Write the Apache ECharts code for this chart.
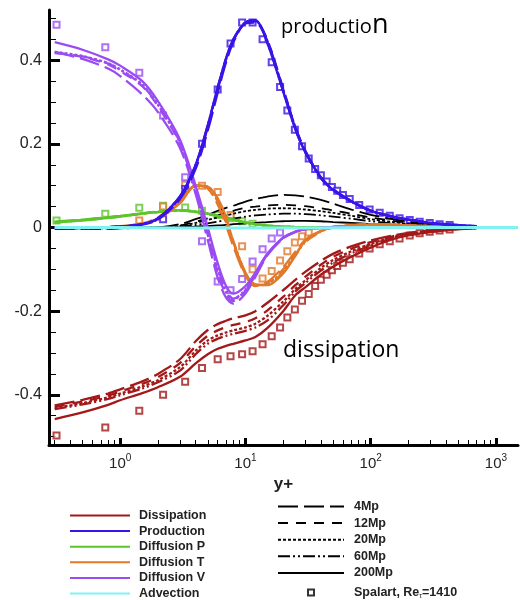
<!DOCTYPE html>
<html>
<head>
<meta charset="UTF-8">
<title>TKE budget</title>
<script src="https://cdn.jsdelivr.net/npm/echarts@6/dist/echarts.min.js"></script>
<style>html,body{margin:0;padding:0;background:#fff}</style>
</head>
<body>
<div id="main" style="width:520px;height:600px"></div>
<script>
// y+ grid of the simulation curves
var yPlus = [0.3,0.5,0.8,1,1.5,2,3,4,5,6,7,8,10,12,15,20,25,30,40,50,70,100,150,200,300,500,700];

var diss4   = [-0.425,-0.412,-0.397,-0.387,-0.368,-0.350,-0.315,-0.272,-0.245,-0.231,-0.223,-0.217,-0.210,-0.200,-0.180,-0.150,-0.125,-0.106,-0.080,-0.063,-0.045,-0.031,-0.019,-0.013,-0.007,-0.003,-0.001];
var diss12  = [-0.428,-0.416,-0.402,-0.392,-0.374,-0.358,-0.324,-0.284,-0.259,-0.246,-0.238,-0.233,-0.226,-0.217,-0.198,-0.166,-0.138,-0.118,-0.089,-0.070,-0.051,-0.035,-0.021,-0.015,-0.008,-0.003,-0.001];
var diss20  = [-0.432,-0.420,-0.406,-0.397,-0.380,-0.365,-0.334,-0.295,-0.270,-0.258,-0.251,-0.246,-0.239,-0.230,-0.211,-0.177,-0.147,-0.127,-0.097,-0.078,-0.057,-0.039,-0.023,-0.016,-0.009,-0.003,-0.001];
var diss60  = [-0.434,-0.423,-0.410,-0.401,-0.385,-0.370,-0.342,-0.303,-0.278,-0.266,-0.259,-0.254,-0.247,-0.239,-0.222,-0.186,-0.153,-0.133,-0.103,-0.084,-0.062,-0.043,-0.025,-0.017,-0.010,-0.004,-0.001];
var diss200 = [-0.458,-0.442,-0.424,-0.413,-0.396,-0.382,-0.357,-0.325,-0.303,-0.290,-0.283,-0.278,-0.270,-0.262,-0.240,-0.200,-0.162,-0.143,-0.113,-0.094,-0.070,-0.048,-0.028,-0.019,-0.011,-0.004,-0.002];

var prod4   = [0,0,0.001,0.002,0.007,0.019,0.068,0.140,0.232,0.322,0.395,0.443,0.488,0.490,0.445,0.330,0.240,0.184,0.120,0.092,0.064,0.041,0.026,0.019,0.011,0.005,0.003];
var prod12  = [0,0,0.001,0.002,0.008,0.021,0.072,0.146,0.240,0.330,0.400,0.447,0.490,0.493,0.447,0.332,0.240,0.183,0.119,0.091,0.063,0.040,0.026,0.019,0.011,0.005,0.003];
var prod20  = [0,0,0.001,0.002,0.008,0.021,0.073,0.148,0.242,0.332,0.402,0.448,0.490,0.494,0.443,0.328,0.237,0.181,0.118,0.090,0.062,0.040,0.026,0.019,0.011,0.005,0.003];
var prod60  = [0,0,0.001,0.002,0.008,0.022,0.074,0.149,0.244,0.334,0.404,0.450,0.491,0.495,0.441,0.326,0.236,0.180,0.118,0.090,0.062,0.040,0.025,0.018,0.010,0.005,0.003];
var prod200 = [0,0,0.001,0.002,0.008,0.022,0.075,0.150,0.245,0.335,0.405,0.450,0.490,0.495,0.440,0.325,0.235,0.180,0.120,0.090,0.063,0.040,0.026,0.019,0.011,0.006,0.003];

var difP4   = [0.014,0.019,0.025,0.028,0.034,0.038,0.041,0.037,0.032,0.027,0.022,0.018,0.012,0.008,0.005,0.002,0.001,0,0,0,0,0,0,0,0,0,0];
var difP12  = [0.013,0.018,0.024,0.027,0.034,0.038,0.041,0.038,0.033,0.028,0.023,0.019,0.012,0.008,0.004,0.002,0.001,0,0,0,0,0,0,0,0,0,0];
var difP20  = [0.013,0.018,0.024,0.027,0.033,0.037,0.041,0.038,0.033,0.028,0.023,0.019,0.012,0.008,0.004,0.002,0.001,0,0,0,0,0,0,0,0,0,0];
var difP60  = [0.012,0.017,0.023,0.026,0.033,0.037,0.041,0.038,0.033,0.028,0.023,0.019,0.012,0.008,0.004,0.002,0.001,0,0,0,0,0,0,0,0,0,0];
var difP200 = [0.012,0.017,0.023,0.026,0.033,0.037,0.041,0.038,0.033,0.028,0.023,0.019,0.012,0.008,0.004,0.002,0.001,0,0,0,0,0,0,0,0,0,0];

var difT4   = [0,0,0.001,0.003,0.010,0.024,0.065,0.100,0.093,0.055,0.005,-0.045,-0.115,-0.140,-0.130,-0.095,-0.058,-0.030,-0.008,0.002,0.006,0.008,0.007,0.005,0.003,0.001,0];
var difT12  = [0,0,0.001,0.003,0.009,0.022,0.062,0.100,0.096,0.062,0.013,-0.038,-0.112,-0.139,-0.133,-0.100,-0.062,-0.032,-0.009,0.001,0.005,0.007,0.007,0.005,0.003,0.001,0];
var difT20  = [0,0,0.001,0.002,0.009,0.021,0.060,0.100,0.097,0.066,0.018,-0.035,-0.110,-0.138,-0.135,-0.104,-0.065,-0.034,-0.009,0.001,0.005,0.007,0.007,0.005,0.003,0.001,0];
var difT60  = [0,0,0.001,0.002,0.008,0.020,0.059,0.100,0.098,0.068,0.022,-0.032,-0.108,-0.137,-0.137,-0.106,-0.067,-0.035,-0.010,0,0.005,0.007,0.007,0.005,0.003,0.001,0];
var difT200 = [0,0,0.001,0.002,0.008,0.020,0.058,0.100,0.098,0.070,0.025,-0.035,-0.108,-0.136,-0.138,-0.110,-0.068,-0.030,-0.008,0,0.005,0.007,0.007,0.005,0.003,0.001,0];

var difV4   = [0.420,0.403,0.380,0.362,0.318,0.276,0.190,0.080,-0.030,-0.120,-0.168,-0.182,-0.158,-0.118,-0.066,-0.026,-0.011,-0.004,-0.001,0,0,0,0,0,0,0,0];
var difV12  = [0.418,0.408,0.390,0.374,0.338,0.290,0.200,0.088,-0.018,-0.108,-0.160,-0.176,-0.152,-0.114,-0.064,-0.025,-0.010,-0.004,-0.001,0,0,0,0,0,0,0,0];
var difV20  = [0.420,0.410,0.393,0.378,0.342,0.294,0.203,0.092,-0.012,-0.100,-0.155,-0.172,-0.150,-0.112,-0.063,-0.025,-0.010,-0.004,-0.001,0,0,0,0,0,0,0,0];
var difV60  = [0.417,0.409,0.392,0.377,0.340,0.293,0.204,0.094,-0.008,-0.096,-0.150,-0.170,-0.148,-0.110,-0.063,-0.024,-0.010,-0.004,-0.001,0,0,0,0,0,0,0,0];
var difV200 = [0.443,0.425,0.402,0.387,0.350,0.302,0.210,0.100,0.000,-0.085,-0.140,-0.158,-0.140,-0.108,-0.062,-0.024,-0.010,-0.004,-0.001,0,0,0,0,0,0,0,0];

// black curves (no colour legend entry)
var blk4   = [-0.003,-0.003,-0.003,-0.002,-0.001,0,0.008,0.020,0.030,0.040,0.047,0.052,0.062,0.068,0.074,0.078,0.077,0.074,0.066,0.057,0.043,0.030,0.020,0.014,0.008,0.003,0.001];
var blk12  = [-0.002,-0.002,-0.002,-0.002,-0.001,0,0.005,0.014,0.022,0.029,0.035,0.040,0.047,0.050,0.053,0.054,0.053,0.051,0.046,0.041,0.033,0.024,0.016,0.011,0.006,0.002,0.001];
var blk20  = [-0.002,-0.002,-0.002,-0.001,-0.001,0,0.004,0.011,0.018,0.024,0.029,0.033,0.039,0.042,0.045,0.046,0.045,0.043,0.039,0.035,0.028,0.020,0.013,0.009,0.005,0.002,0];
var blk60  = [-0.001,-0.001,-0.001,-0.001,0,0,0.002,0.006,0.010,0.014,0.018,0.021,0.026,0.029,0.031,0.033,0.033,0.032,0.029,0.026,0.021,0.015,0.010,0.007,0.004,0.001,0];
var blk200 = [0,0,0,0,0,0,0.001,0.002,0.004,0.005,0.006,0.008,0.010,0.011,0.013,0.015,0.016,0.016,0.015,0.013,0.011,0.008,0.005,0.004,0.002,0.001,0];

var advX = [0.3,1,3,10,30,100,1000,1500];
var advY = [0,0,-0.001,-0.001,-0.001,0,0,0];

// Spalart, Re_tau = 1410 (null = point hidden under the zero line)
var spY = [0.31,0.76,1.42,2.2,3.3,4.5,6.0,7.6,9.4,11.4,13.7,16.2,18.9,21.6,24.8,28.3,32,36,40,44.5,49,54,60,68,81,98,118,142,170,205,246,296,355,427];
var spDiss = [-0.497,-0.478,-0.438,-0.400,-0.369,-0.336,-0.315,-0.308,-0.303,-0.296,-0.279,-0.260,-0.239,-0.215,-0.196,-0.175,-0.159,-0.140,-0.125,-0.113,-0.102,-0.092,-0.084,-0.076,-0.062,-0.050,-0.040,-0.033,-0.026,-0.019,-0.014,-0.010,-0.007,-0.005];
var spProd = [null,null,null,0.020,0.092,0.200,0.330,0.440,0.490,0.490,0.450,0.395,0.336,0.280,0.234,0.194,0.165,0.140,0.125,0.110,0.097,0.088,0.078,0.068,0.054,0.043,0.035,0.028,0.022,0.018,0.014,0.011,0.008,0.006];
var spDifP = [0.017,0.033,0.047,0.052,0.048,0.040,0.030,0.022,0.015,0.009];
var spDifT = [null,null,0.017,0.050,0.102,0.100,0.085,0.030,-0.045,-0.100,-0.122,-0.104,-0.079,-0.057,-0.036,-0.021,-0.012];
var spDifV = [0.485,0.431,0.370,0.268,0.120,-0.033,-0.129,-0.150,-0.123,-0.081,-0.052,-0.026,-0.012];

var xMajor = [1,10,100,1000];
var xMinor = [0.3,0.4,0.5,0.6,0.7,0.8,0.9,2,3,4,5,6,7,8,9,20,30,40,50,60,70,80,90,200,300,400,500,600,700,800,900];
var yMajor = [-0.4,-0.2,0,0.2,0.4];
var yMinor = [-0.5,-0.45,-0.35,-0.3,-0.25,-0.15,-0.1,-0.05,0.05,0.1,0.15,0.25,0.3,0.35,0.45,0.5];

var resNames = ['4Mp','12Mp','20Mp','60Mp','200Mp'];
var dash = {'4Mp':[20,6],'12Mp':[10,8],'20Mp':[3,2],'60Mp':[12,3,2,3,2,3],'200Mp':'solid'};

var comps = [
  {name:'Dissipation', color:'#a31818', sets:[diss4,diss12,diss20,diss60,diss200], sp:spDiss},
  {name:'Diffusion P', color:'#5ec42c', sets:[difP4,difP12,difP20,difP60,difP200], sp:spDifP},
  {name:'Diffusion T', color:'#e2782a', sets:[difT4,difT12,difT20,difT60,difT200], sp:spDifT},
  {name:'Diffusion V', color:'#9a4cf2', sets:[difV4,difV12,difV20,difV60,difV200], sp:spDifV},
  {name:'Production',  color:'#3a14e6', sets:[prod4,prod12,prod20,prod60,prod200], sp:spProd}
];
var black = [blk4,blk12,blk20,blk60,blk200];

function pairs(xs, ys){ return ys.map(function(v,i){ return [xs[i], v]; }); }

function curve(name, color, xs, ys, res, w){
  return {
    name:name, type:'line', data:pairs(xs, ys),
    symbol:'none', showSymbol:false, smooth:0.3,
    lineStyle:{color:color, width:w, type:dash[res]},
    itemStyle:{color:color}, silent:true
  };
}

var series = [];
for (var i=0;i<resNames.length;i++){
  series.push(curve(resNames[i], '#000', yPlus, black[i], resNames[i], 1.8));
}
comps.forEach(function(c){
  for (var i=0;i<resNames.length;i++){
    var r = resNames[i];
    series.push(curve(r==='200Mp' ? c.name : c.name+' '+r, c.color, yPlus, c.sets[i], r, 2.3));
  }
});
series.push(curve('Advection', '#80f2f2', advX, advY, '200Mp', 3));
comps.forEach(function(c){
  series.push({
    name:'Spalart '+c.name, type:'scatter', symbol:'emptyRect', symbolSize:6,
    data:pairs(spY, c.sp), itemStyle:{color:c.color, borderWidth:1}, silent:true
  });
});
series.push({name:'Spalart', type:'scatter', symbol:'emptyRect', data:[], itemStyle:{color:'#000'}});

var font = 'Liberation Sans';
var legendText = {fontFamily:font, fontWeight:'bold', fontSize:12.5, color:'#222'};

var myChart = echarts.init(document.getElementById('main'));
myChart.setOption({
  animation:false,
  backgroundColor:'#fff',
  grid:{left:49, right:2, top:10, bottom:155},
  xAxis:[
    {type:'log', logBase:10, min:0.27, max:1500, position:'bottom',
     name:'y+', nameLocation:'middle', nameGap:17,
     nameTextStyle:{fontFamily:font, fontWeight:'bold', fontSize:17, color:'#222'},
     axisLine:{onZero:false, lineStyle:{color:'#000', width:3}},
     axisTick:{inside:true, length:7, customValues:xMajor, lineStyle:{color:'#000', width:3}},
     axisLabel:{customValues:xMajor, margin:8,
       formatter:function(v){ return '{b|10}{s|' + Math.round(Math.log10(v)) + '}'; },
       rich:{b:{fontFamily:font, fontSize:15, color:'#222', verticalAlign:'bottom'},
             s:{fontFamily:font, fontSize:10, color:'#222', verticalAlign:'bottom', padding:[0,0,8,0]}}},
     splitLine:{show:false}},
    {type:'log', logBase:10, min:0.27, max:1500, position:'bottom',
     axisLine:{show:false, onZero:false},
     axisTick:{inside:true, length:5, customValues:xMinor, lineStyle:{color:'#000', width:1}},
     axisLabel:{show:false}, splitLine:{show:false}}
  ],
  yAxis:[
    {type:'value', min:-0.52, max:0.52, position:'left',
     axisLine:{onZero:false, lineStyle:{color:'#000', width:3}},
     axisTick:{inside:true, length:11, customValues:yMajor, lineStyle:{color:'#000', width:3}},
     axisLabel:{customValues:yMajor, margin:7, fontFamily:font, fontSize:16, color:'#222',
       formatter:function(v){ return v === 0 ? '0' : v.toFixed(1); }},
     splitLine:{show:false}},
    {type:'value', min:-0.52, max:0.52, position:'left',
     axisLine:{show:false, onZero:false},
     axisTick:{inside:true, length:7, customValues:yMinor, lineStyle:{color:'#000', width:1}},
     axisLabel:{show:false}, splitLine:{show:false}}
  ],
  legend:[
    {data:['Dissipation','Production','Diffusion P','Diffusion T','Diffusion V','Advection'],
     orient:'vertical', left:69, top:509, padding:0, itemWidth:60, itemHeight:12, itemGap:2.6,
     itemStyle:{opacity:0}, selectedMode:false, textStyle:Object.assign({padding:[0,0,0,4]}, legendText)},
    {data:resNames, orient:'vertical', left:277, top:500, padding:0, itemWidth:66, itemHeight:12, itemGap:3.6,
     itemStyle:{opacity:0}, selectedMode:false, textStyle:Object.assign({padding:[0,0,0,5]}, legendText)},
    {data:['Spalart'], orient:'vertical', left:307, top:586, padding:0, itemWidth:6, itemHeight:6,
     selectedMode:false, formatter:'{t|Spalart, Re}{s|τ}{t|=1410}',
     textStyle:{padding:[0,0,0,35], rich:{t:legendText, s:{fontFamily:font, fontSize:7, color:'#222', padding:[8,0,0,0]}}}}
  ],
  graphic:[
    {type:'text', x:281, y:27, silent:true, style:{text:'productio', fontFamily:'Open Sans', fontSize:20, fill:'#000', verticalAlign:'middle'}},
    {type:'text', x:372, y:25, silent:true, style:{text:'n', fontFamily:'Open Sans', fontSize:27, fill:'#000', verticalAlign:'middle'}},
    {type:'text', x:283, y:350, silent:true, style:{text:'dissipation', fontFamily:'Open Sans', fontSize:23, fill:'#000', verticalAlign:'middle'}}
  ],
  series:series
});
</script>
</body>
</html>
